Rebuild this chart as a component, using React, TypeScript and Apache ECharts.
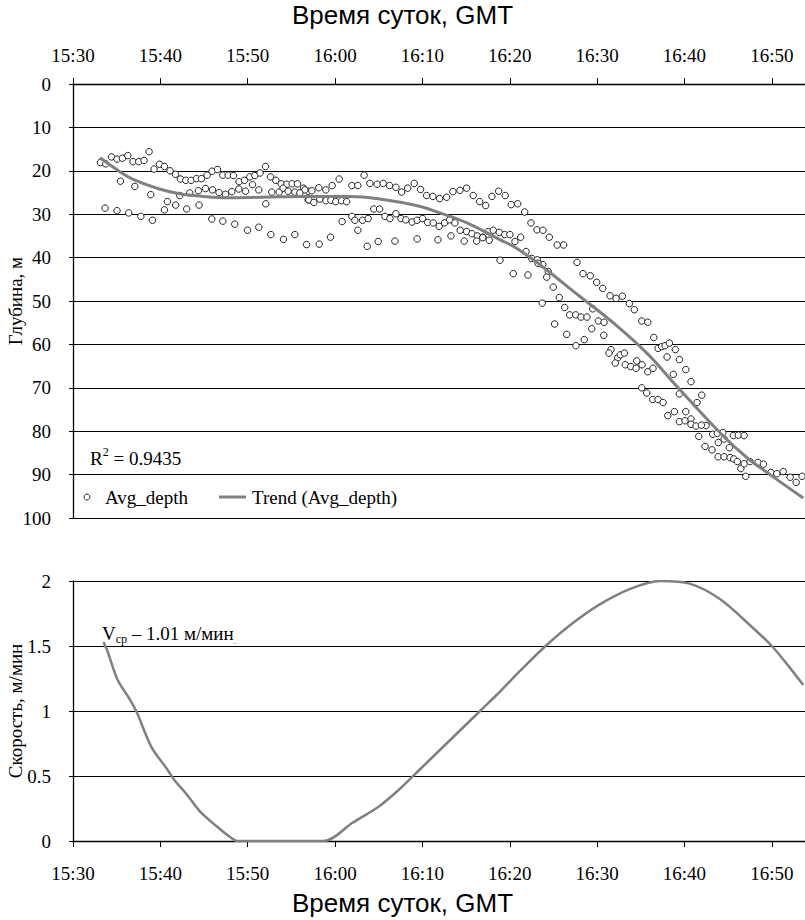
import { useEffect, useRef } from "react";
import * as echarts from "echarts";

// time in minutes since 00:00 (15:30 = 930)
const timeTicks = [930, 940, 950, 960, 970, 980, 990, 1000, 1010];
const timeMin = 930;
const timeMax = 1013.8;

// Avg_depth observations: [minutes, depth m]
const avgDepth: [number, number][] = [
  [933.14,18.1],[933.75,18.4],[934.40,16.8],[935.04,17.3],[935.66,17.1],[936.27,16.5],[936.87,17.9],[937.53,17.9],[938.13,17.6],[938.71,15.6],[939.28,19.6],[939.90,18.5],[940.47,19.0],[941.11,20.0],[941.73,20.8],[942.30,21.9],[942.91,22.2],[943.52,22.2],[944.14,21.8],[944.71,21.8],[945.35,21.0],[945.92,20.1],[946.54,19.7],[947.15,21.0],[947.76,21.0],[948.37,21.1],[949.01,22.5],[949.63,22.2],[950.24,21.4],[950.81,21.1],[951.42,20.5],[952.04,19.0],[952.61,21.4],[953.22,22.2],[953.83,23.0],[954.48,23.1],[955.09,23.0],[955.70,23.0],[956.39,24.0],[956.92,24.7],
  [957.34,24.6],[958.14,23.9],[958.95,24.4],[959.67,23.4],[960.47,21.9],[961.93,23.4],[962.61,23.4],[963.33,21.0],[963.99,22.9],[964.82,23.1],[965.51,22.9],[966.24,23.4],[966.96,23.8],[967.62,24.9],[968.31,24.0],[969.06,22.9],[969.79,24.3],[970.48,25.7],[971.20,25.9],[971.97,26.4],[972.77,26.1],[973.49,24.8],[974.30,24.5],[975.06,24.0],[975.82,25.7],[976.55,27.1],[977.24,28.0],[977.96,25.9],[978.73,24.7],[979.48,25.7],[980.17,27.8],[980.91,27.6],[981.71,29.5],[982.43,32.0],[983.12,33.6],[983.80,33.7],[984.53,35.3],[985.43,37.1],[986.17,37.1],[987.70,41.1],[988.39,43.7],[989.22,44.2],[989.95,45.7],[990.64,47.1],[991.48,48.8],[992.17,49.4],[992.89,48.9],[993.69,50.6],[994.26,52.0],[995.11,54.6],[995.80,54.9],[996.48,58.4],[996.98,60.9],[997.40,60.5],[997.78,60.3],[998.27,59.7],[998.96,61.2],[999.42,63.5],[998.01,62.9],[998.73,66.9],[1000.15,65.8],[1000.75,68.6],[1001.44,73.4],[1001.98,71.7],[999.42,71.4],[1002.47,78.7],[1003.24,80.7],[1003.77,80.5],[1004.39,80.3],[1005.60,81.0],[1006.17,80.9],[1006.83,81.0],
  [935.43,22.4],[937.07,23.6],[938.90,25.5],[940.81,27.1],[941.76,27.9],[942.22,25.7],[943.37,25.1],[944.43,27.9],[944.36,24.6],[945.17,24.1],[945.97,24.4],[946.72,25.0],[947.46,25.4],[948.18,24.8],[948.98,24.2],[949.75,24.7],[950.55,23.2],[951.27,24.4],[952.07,27.6],[952.76,24.9],[953.60,24.9],[954.05,24.0],[954.63,24.7],[955.40,24.9],[956.54,24.4],[956.92,26.7],
  [955.97,25.1],[957.00,26.7],[957.57,27.3],[958.26,26.5],[958.95,26.9],[959.52,26.8],[960.09,27.1],[960.74,26.9],[961.32,27.1],[960.81,31.7],[961.93,30.5],[962.27,31.4],[962.61,33.7],[963.15,31.4],[963.79,31.0],[964.44,28.8],[965.10,28.8],[965.71,30.5],[966.28,31.0],[966.96,29.9],[967.54,31.0],[968.11,31.3],[968.83,31.8],[969.40,31.4],[970.02,31.0],[970.60,31.9],[971.24,32.0],[971.92,32.8],[972.54,32.0],[973.12,31.3],[973.72,32.0],[974.33,33.7],[975.06,34.0],[975.67,34.5],[976.28,35.0],[976.93,35.3],[977.54,34.0],[978.11,33.7],[978.80,34.2],[979.42,34.7],[980.02,34.7],[980.60,36.3],[981.25,35.3],[981.86,38.6],[982.51,40.2],[983.15,40.5],[983.77,41.6],[984.41,43.2],[984.98,46.8],[985.67,49.2],[986.29,51.5],[986.86,53.2],[987.55,53.2],[988.16,53.7],[988.84,53.7],[989.50,51.8],[990.14,54.6],[990.79,54.9],[991.59,61.2],[991.36,62.0],[992.36,63.1],[992.08,64.3],[992.66,62.4],[993.12,62.0],[993.23,64.7],[993.85,65.1],[994.54,63.8],[994.46,65.5],[995.14,64.7],[995.80,66.3],[996.40,65.5],[995.11,70.0],[995.68,71.2],[996.37,72.7],[996.98,72.7],[997.55,73.4],[998.09,76.4],[998.85,75.5],[999.42,77.8],[1000.07,77.6],[1000.15,75.5],[1000.75,77.2],[1000.75,78.4],[1001.33,78.8],[1001.93,78.6],[1001.64,81.2],[1002.36,83.5],[1003.16,84.3],[1003.88,82.6],[1004.54,81.8],[1005.14,83.8],[1003.85,85.9],[1004.54,85.9],[1005.22,86.1],[1005.65,86.4],[1006.06,87.0],[1006.45,88.6],[1006.83,87.5],[1007.02,90.4],[1007.51,87.0],[1008.43,87.2],[1009.04,87.6],[1009.89,89.5],[1010.57,89.8],[1011.30,89.3],[1012.10,90.6],[1012.79,91.8],[1013.47,90.4],
  [933.67,28.6],[935.04,29.2],[936.38,29.7],[937.76,30.5],[939.10,31.4],[940.47,29.0],[943.02,28.8],[945.89,31.1],[947.15,31.6],[948.52,32.3],[949.98,33.7],[951.27,33.0],[952.65,34.7],[954.10,35.8],[955.40,34.7],[956.74,37.0],[958.18,36.9],[959.48,35.3],[963.68,37.4],[964.94,36.3],[966.85,36.2],[969.40,35.7],[971.78,35.9],[973.27,35.0],[974.79,36.2],[976.21,36.2],[977.65,36.0],[976.90,35.4],[978.88,40.6],[980.40,43.7],[982.08,44.0],[983.23,41.3],[983.72,50.5],[984.23,44.5],[985.14,55.3],[986.52,57.7],[987.58,60.3],[988.53,58.9],[989.38,56.4],[990.76,57.9]
];

// Trend (Avg_depth): [minutes, depth m]
const trendDepth: [number, number][] = [
  [933.1,17.0],[935.0,19.7],[936.9,22.0],[939.9,24.2],[942.2,25.3],[944.9,25.9],[947.6,26.2],[951.4,26.1],[956.7,25.9],[961.7,25.9],[965.5,26.6],[969.3,28.0],[972.0,29.7],[975.1,32.0],[978.9,35.9],[980.4,37.4],[982.7,40.5],[984.2,42.8],[988.0,48.9],[991.9,55.1],[995.7,62.0],[999.1,69.6],[1004.1,80.4],[1007.1,86.0],[1009.8,90.0],[1013.6,95.4]
];

// Speed, m/min: [minutes, value]
const speed: [number, number][] = [
  [933.5,1.53],[934.0,1.45],[935.1,1.24],[936.5,1.09],[937.3,0.99],[939.0,0.72],[940.7,0.56],[941.6,0.47],[943.0,0.36],[944.5,0.23],[946.4,0.115],[947.9,0.035],[948.9,0],[958.7,0],[962.0,0.14],[965.1,0.27],[967.4,0.40],[969.7,0.55],[972.0,0.70],[974.3,0.85],[976.6,1.0],[978.9,1.15],[981.2,1.31],[984.1,1.50],[986.9,1.66],[990.3,1.82],[993.8,1.94],[997.2,2.0],[1000.6,1.98],[1004.1,1.86],[1007.5,1.66],[1010.0,1.50],[1012.1,1.33],[1013.6,1.20]
];

const fmt = (v: number) => {
  const h = Math.floor(v / 60);
  const m = Math.round(v - h * 60);
  return `${h}:${String(m).padStart(2, "0")}`;
};

const SERIF = "Liberation Serif";
const SANS = "Liberation Sans";

export default function App() {
  const ref = useRef<HTMLDivElement>(null);
  useEffect(() => {
    if (!ref.current) return;
    const chart = echarts.init(ref.current, undefined, { renderer: "svg" });
    const xCommon = (gridIndex: number, position: string) => ({
      gridIndex,
      type: "value",
      position,
      min: timeMin,
      max: timeMax,
      axisLine: { show: true, lineStyle: { color: "#000", width: 1.3 } },
      axisTick: { show: true, length: 6, customValues: timeTicks, lineStyle: { color: "#000" } },
      axisLabel: {
        customValues: timeTicks,
        formatter: fmt,
        color: "#000",
        fontFamily: SERIF,
        fontSize: 19,
        margin: position === "top" ? 19 : 23,
      },
      splitLine: { show: false },
    });
    const yCommon = (gridIndex: number, name: string, min: number, max: number, interval: number, inverse: boolean) => ({
      gridIndex,
      type: "value",
      inverse,
      min,
      max,
      interval,
      name,
      nameLocation: "middle",
      nameRotate: 90,
      nameGap: 48,
      nameMoveOverlap: false,
      nameTextStyle: { color: "#000", fontFamily: SERIF, fontSize: 19 },
      axisLine: { show: true, onZero: false, lineStyle: { color: "#000", width: 1.3 } },
      axisTick: { show: true, length: 4, lineStyle: { color: "#000" } },
      axisLabel: { color: "#000", fontFamily: SERIF, fontSize: 19, margin: 22 },
      splitLine: { show: true, lineStyle: { color: "#000", width: 1 } },
    });
    chart.setOption({
      animation: false,
      backgroundColor: "#fff",
      grid: [
        { left: 73, right: 0, top: 84, height: 434, containLabel: false, outerBoundsMode: "none" },
        { left: 73, right: 0, top: 581, height: 260, containLabel: false, outerBoundsMode: "none" },
      ],
      xAxis: [xCommon(0, "top"), xCommon(1, "bottom")],
      yAxis: [
        yCommon(0, "Глубина, м", 0, 100, 10, true),
        yCommon(1, "Скорость, м/мин", 0, 2, 0.5, false),
      ],
      series: [
        {
          name: "Avg_depth",
          type: "scatter",
          xAxisIndex: 0,
          yAxisIndex: 0,
          data: avgDepth,
          symbol: "circle",
          symbolSize: 6.5,
          itemStyle: { color: "#fff", borderColor: "#222", borderWidth: 1, opacity: 1 },
          z: 3,
        },
        {
          name: "Trend (Avg_depth)",
          type: "line",
          xAxisIndex: 0,
          yAxisIndex: 0,
          data: trendDepth,
          smooth: 0.4,
          showSymbol: false,
          lineStyle: { color: "#808080", width: 3 },
          z: 4,
        },
        {
          name: "speed",
          type: "line",
          xAxisIndex: 1,
          yAxisIndex: 1,
          data: speed,
          smooth: 0.3,
          showSymbol: false,
          lineStyle: { color: "#808080", width: 2.5 },
        },
      ],
      graphic: [
        {
          type: "text",
          left: "center",
          top: 2,
          style: { text: "Время суток, GMT", fontFamily: SANS, fontSize: 26, fill: "#000" },
        },
        {
          type: "text",
          left: "center",
          top: 890,
          style: { text: "Время суток, GMT", fontFamily: SANS, fontSize: 26, fill: "#000" },
        },
        {
          type: "text",
          x: 90,
          y: 458,
          style: {
            text: "{a|R}{s|2}{a| = 0.9435}",
            verticalAlign: "middle",
            rich: {
              a: { fontFamily: SERIF, fontSize: 19, fill: "#000", lineHeight: 24 },
              s: { fontFamily: SERIF, fontSize: 12, fill: "#000", lineHeight: 24, verticalAlign: "top" },
            },
          },
        },
        {
          type: "circle",
          shape: { cx: 87, cy: 497, r: 3 },
          style: { fill: "#fff", stroke: "#222", lineWidth: 1 },
        },
        {
          type: "text",
          x: 105,
          y: 497,
          style: { text: "Avg_depth", fontFamily: SERIF, fontSize: 19, fill: "#000", verticalAlign: "middle" },
        },
        {
          type: "line",
          shape: { x1: 219, y1: 497, x2: 246, y2: 497 },
          style: { stroke: "#808080", lineWidth: 3 },
        },
        {
          type: "text",
          x: 252,
          y: 497,
          style: { text: "Trend (Avg_depth)", fontFamily: SERIF, fontSize: 19, fill: "#000", verticalAlign: "middle" },
        },
        {
          type: "text",
          x: 102,
          y: 633,
          style: {
            text: "{a|V}{s|ср}{a| – 1.01 м/мин}{d|.}",
            verticalAlign: "middle",
            rich: {
              a: { fontFamily: SERIF, fontSize: 19, fill: "#000", lineHeight: 24 },
              s: { fontFamily: SERIF, fontSize: 12, fill: "#000", lineHeight: 24, verticalAlign: "bottom" },
              d: { fontFamily: SERIF, fontSize: 9, fill: "#000", lineHeight: 24, verticalAlign: "bottom" },
            },
          },
        },
      ],
    });
    return () => chart.dispose();
  }, []);
  return <div ref={ref} style={{ width: 805, height: 920, position: "absolute", left: 0, top: 0 }} />;
}
